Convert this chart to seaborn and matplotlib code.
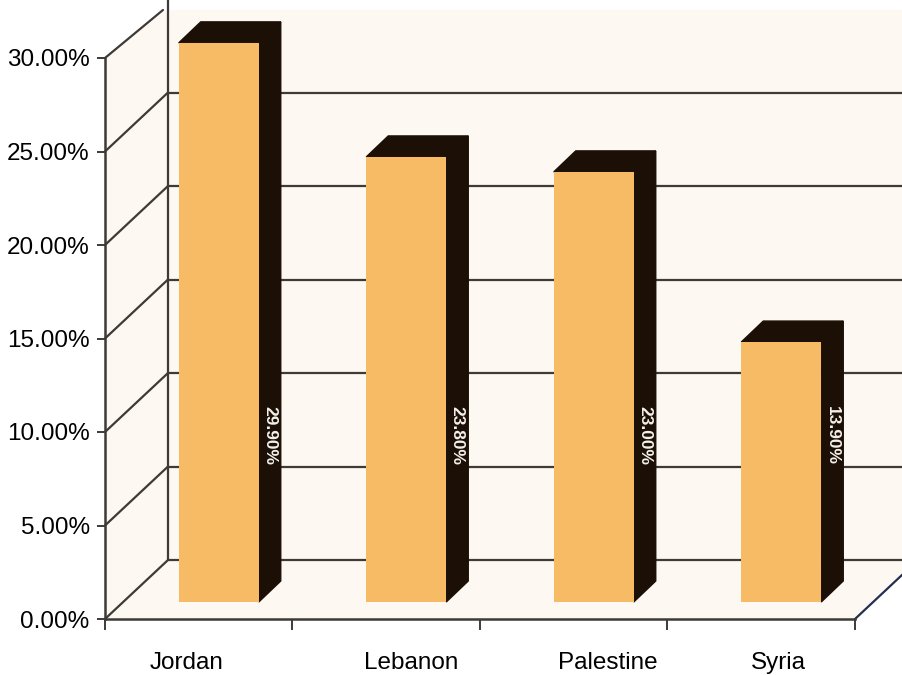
import matplotlib
matplotlib.use("Agg")
import matplotlib.pyplot as plt
import matplotlib.transforms as mtransforms
import numpy as np
import pandas as pd
import seaborn as sns

countries = ["Jordan", "Lebanon", "Palestine", "Syria"]
shares = [29.9, 23.8, 23.0, 13.9]
y_ticks = [0, 5, 10, 15, 20, 25, 30]

FRONT = "#f7bb65"
DARK = "#1b0f06"
WALL = "#fdf8f1"
GRID = "#3d3a37"

sns.set_style("white")
plt.rcParams["font.family"] = ["Liberation Sans Narrow", "Liberation Sans", "DejaVu Sans"]

W, H = 903, 675
fig = plt.figure(figsize=(W / 100, H / 100), dpi=100)
# axes: front x-axis from px 105 to 855 at y=619, 30% at y=58
ax = fig.add_axes([105 / W, (H - 619) / H, 750 / W, (619 - 58) / H])

px_x = 750 / 4        # pixels per category
px_y = (619 - 58) / 30  # pixels per percent


def dx(p):
    return p / px_x


def dy(p):
    return p / px_y


back_dx, back_dy = dx(63), dy(59)
bar_dx, bar_dy = dx(20), dy(17)
deep_dx, deep_dy = dx(22), dy(21)

df = pd.DataFrame({"country": countries, "share": shares})
sns.barplot(data=df, x="country", y="share", color=FRONT, width=dx(80),
            saturation=1, ax=ax, zorder=4, linewidth=0)

ax.set_xlim(-0.5, 3.5)
ax.set_ylim(0, 30)

right_edge = -0.5 + (W - 105) / px_x
top_edge = dy(619 - 10)

# walls and floor
ax.fill([-0.5 + back_dx, right_edge, right_edge, -0.5 + back_dx],
        [back_dy, back_dy, top_edge, top_edge], color=WALL, zorder=0, clip_on=False)
ax.fill([-0.5, -0.5 + back_dx, -0.5 + back_dx, -0.5],
        [0, back_dy, top_edge, 30 + dy(0)], color=WALL, zorder=0, clip_on=False)
ax.fill([-0.5, 3.5, 3.5 + back_dx, -0.5 + back_dx],
        [0, 0, back_dy, back_dy], color=WALL, zorder=0, clip_on=False)

for t in y_ticks:
    if t + back_dy < top_edge:
        ax.plot([-0.5, -0.5 + back_dx], [t, t + back_dy], color=GRID, lw=1.6,
                zorder=1, clip_on=False)
        ax.plot([-0.5 + back_dx, right_edge], [t + back_dy, t + back_dy],
                color=GRID, lw=1.6, zorder=1, clip_on=False)
    else:
        ax.plot([-0.5, -0.5 + dx(58)], [t, top_edge], color=GRID, lw=1.6,
                zorder=1, clip_on=False)
ax.plot([-0.5 + back_dx, -0.5 + back_dx], [back_dy, dy(619 + 5)], color=GRID,
        lw=1.6, zorder=1, clip_on=False)
ax.plot([3.5, 3.5 + back_dx], [0, back_dy], color="#24304f", lw=1.6,
        zorder=1, clip_on=False)

# 3D bars: shift front faces, add top and side
for patch, v in zip(ax.patches, shares):
    x0 = patch.get_x() + bar_dx
    w = patch.get_width()
    patch.set_x(x0)
    patch.set_y(bar_dy)
    patch.set_clip_on(False)
    top = bar_dy + v
    ax.fill([x0, x0 + w, x0 + w + deep_dx, x0 + deep_dx],
            [top, top, top + deep_dy, top + deep_dy], color=DARK, zorder=3,
            clip_on=False)
    ax.fill([x0 + w, x0 + w + deep_dx, x0 + w + deep_dx, x0 + w],
            [bar_dy, bar_dy + deep_dy, top + deep_dy, top], color=DARK, zorder=3,
            clip_on=False)
    ax.text(x0 + w + deep_dx / 2, 9.8, f"{v:.2f}%", rotation=-90, color="#f4f0ea",
            fontsize=12.5, fontweight="bold", ha="center", va="center", zorder=5)

for s in ["top", "right"]:
    ax.spines[s].set_visible(False)
for s in ["left", "bottom"]:
    ax.spines[s].set_color(GRID)
    ax.spines[s].set_linewidth(1.8)
    ax.spines[s].set_zorder(2)

ax.set_yticks(y_ticks, [f"{t:.2f}%" for t in y_ticks])
ax.set_xticks(np.arange(len(countries)), countries)
ax.set_xticks(np.arange(len(countries) + 1) - 0.5, minor=True)
ax.tick_params(axis="y", length=6, width=1.4, color=GRID, pad=5, labelsize=17.5,
               left=True, labelcolor="black")
ax.tick_params(axis="x", which="major", length=0, pad=24, labelsize=17.5,
               labelcolor="black")
ax.tick_params(axis="x", which="minor", length=8, width=1.4, color=GRID,
               bottom=True, direction="out")

# Excel places the category labels slightly off-centre
label_nudge_px = [-12, 25, 34, 17]
for lab, nudge in zip(ax.get_xticklabels(), label_nudge_px):
    lab.set_transform(lab.get_transform() +
                      mtransforms.ScaledTranslation(nudge / 100, 0, fig.dpi_scale_trans))

ax.set_xlabel("")
ax.set_ylabel("")
ax.set_facecolor("none")

fig.savefig("out.png", dpi=100, facecolor="white")
